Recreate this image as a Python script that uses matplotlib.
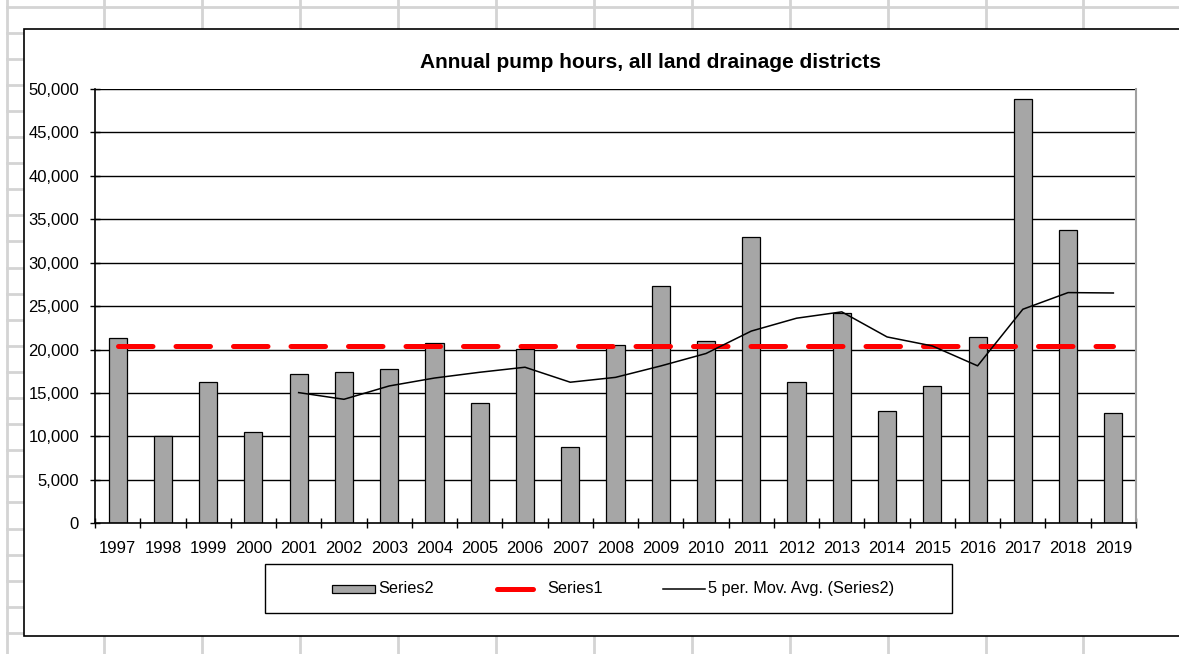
import matplotlib.pyplot as plt
import matplotlib.patches as mpatches
from matplotlib.lines import Line2D
from matplotlib.ticker import FuncFormatter, FixedLocator
import pandas as pd

years = ['1997', '1998', '1999', '2000', '2001', '2002', '2003', '2004', '2005', '2006', '2007', '2008',
         '2009', '2010', '2011', '2012', '2013', '2014', '2015', '2016', '2017', '2018', '2019']
series2 = [21300, 10050, 16230, 10500, 17150, 17450, 17730, 20790, 13820, 20050, 8820, 20530,
           27360, 20990, 32950, 16230, 24180, 12930, 15800, 21500, 48810, 33770, 12700]
series1 = [20380] * len(years)
title = 'Annual pump hours, all land drainage districts'
labels = ['Series2', 'Series1', '5 per. Mov. Avg. (Series2)']

plt.rcParams['font.family'] = ['Liberation Sans', 'DejaVu Sans']

W, H = 1179, 654
fig = plt.figure(figsize=(W / 100, H / 100), dpi=100)

def fx(px):
    return px / W

def fy(py):
    return 1 - py / H

# spreadsheet cell grid behind the chart
for i in range(13):
    x = 6.5 + 97.9 * i
    fig.add_artist(Line2D([fx(x), fx(x)], [0, 1], color='#d4d4d4', lw=2, zorder=-3))
for j in range(26):
    y = 6.5 + 26.1 * j
    fig.add_artist(Line2D([fx(6.5), 1], [fy(y), fy(y)], color='#d4d4d4', lw=2, zorder=-3))

# chart area
fig.add_artist(mpatches.Rectangle((fx(24), fy(636)), 1.1, fy(29) - fy(636), facecolor='white',
                                  edgecolor='black', lw=1.2, zorder=-2))

ax = fig.add_axes([fx(95), fy(523.3), fx(1136) - fx(95), fy(89) - fy(523.3)])
ax.set_facecolor('none')
x = list(range(len(years)))

ax.bar(x, series2, width=0.4, color='#a6a6a6', edgecolor='black', lw=0.9, zorder=2)
mov = pd.Series(series2).rolling(5).mean()
ax.plot(x, series1, color='#ff0000', lw=3.6, dashes=(6.9, 4.6), dash_capstyle='round', zorder=3)
ax.plot(x, mov, color='black', lw=1.1, zorder=4)

ax.set_xlim(-0.5, len(years) - 0.5)
ax.set_ylim(0, 50000)
ax.set_yticks(range(0, 50001, 5000))
ax.yaxis.set_major_formatter(FuncFormatter(lambda v, p: f'{int(v):,}'))
for v in range(5000, 50001, 5000):
    ax.axhline(v, color='black', lw=1, zorder=1)

ax.set_xticks(x)
ax.set_xticklabels(years)
ax.xaxis.set_minor_locator(FixedLocator([i - 0.5 for i in range(len(years) + 1)]))
ax.tick_params(axis='x', which='major', length=0, pad=13, labelsize=12)
ax.tick_params(axis='x', which='minor', direction='inout', length=7, width=1)
ax.tick_params(axis='y', direction='inout', length=7, width=1, pad=8, labelsize=12)

ax.spines['top'].set_visible(False)
ax.spines['right'].set_color('#a0a0a0')
ax.spines['right'].set_linewidth(1.5)
ax.spines['left'].set_linewidth(1.2)
ax.spines['bottom'].set_linewidth(1.2)

fig.text(fx(651), fy(62), title, ha='center', va='center', fontsize=15, fontweight='bold')

# legend, laid out by hand like the Excel one
fig.add_artist(mpatches.Rectangle((fx(265), fy(613)), fx(952) - fx(265), fy(564) - fy(613),
                                  facecolor='white', edgecolor='black', lw=1, zorder=1))
ly = 588.5
fig.add_artist(mpatches.Rectangle((fx(332), fy(ly + 4)), fx(375) - fx(332), fy(ly - 4) - fy(ly + 4),
                                  facecolor='#a6a6a6', edgecolor='black', lw=0.9, zorder=2))
fig.add_artist(Line2D([fx(497), fx(533)], [fy(ly), fy(ly)], color='#ff0000', lw=3.6,
                      solid_capstyle='round', zorder=2))
fig.add_artist(Line2D([fx(663), fx(705)], [fy(ly), fy(ly)], color='black', lw=1.1, zorder=2))
for tx, lab in zip([378, 547, 708], labels):
    fig.text(fx(tx), fy(ly), lab, ha='left', va='center', fontsize=11.7, zorder=3)

fig.savefig('out.png', dpi=100)
